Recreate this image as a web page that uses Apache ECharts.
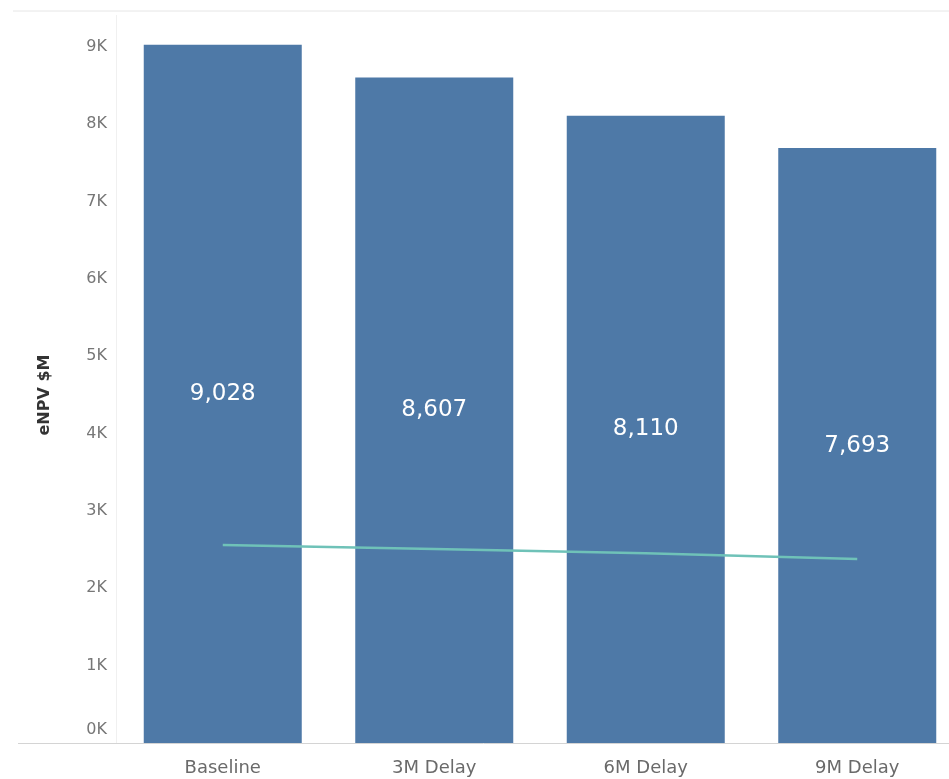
<!DOCTYPE html>
<html>
<head>
<meta charset="utf-8">
<script src="https://cdn.jsdelivr.net/npm/echarts@6/dist/echarts.min.js"></script>
<style>html,body{margin:0;padding:0;background:#fff;}#c{width:949px;height:779px;}</style>
</head>
<body>
<div id="c"></div>
<script>
const categories = ['Baseline', '3M Delay', '6M Delay', '9M Delay'];
const enpvValues = [9028, 8607, 8110, 7693];
const lineValues = [2560, 2510, 2455, 2380];
const yTicks = { min: 0, max: 9000, interval: 1000 };

const chart = echarts.init(document.getElementById('c'));
chart.setOption({
  animation: false,
  textStyle: { fontFamily: 'DejaVu Sans, sans-serif' },
  grid: { left: 117, width: 846, top: 47, bottom: 36, containLabel: false, outerBoundsMode: 'none' },
  graphic: [
    { type: 'line', shape: { x1: 13, y1: 11, x2: 949, y2: 11 }, style: { stroke: '#e6e6e6', lineWidth: 1 }, silent: true },
    { type: 'line', shape: { x1: 116.5, y1: 15, x2: 116.5, y2: 743 }, style: { stroke: '#f0f0f0', lineWidth: 1 }, silent: true },
    { type: 'line', shape: { x1: 18, y1: 743.5, x2: 949, y2: 743.5 }, style: { stroke: '#d4d4d4', lineWidth: 1 }, silent: true }
  ],
  xAxis: {
    type: 'category',
    data: categories,
    axisLine: { show: false },
    axisTick: { show: false },
    axisLabel: { color: '#6a6a6a', fontSize: 18, margin: 16 }
  },
  yAxis: {
    type: 'value',
    min: yTicks.min, max: yTicks.max, interval: yTicks.interval,
    name: 'eNPV $M',
    nameLocation: 'middle',
    nameGap: 64,
    nameTextStyle: { color: '#333', fontSize: 16, fontWeight: 'bold' },
    axisLine: { show: false },
    axisTick: { show: false },
    splitLine: { show: false },
    axisLabel: {
      color: '#777', fontSize: 16, margin: 10,
      formatter: v => v === 0 ? '{z|0K}' : (v / 1000) + 'K',
      rich: { z: { color: '#777', fontSize: 16, padding: [0, 0, 26, 0] } }
    }
  },
  series: [
    {
      type: 'bar',
      data: enpvValues,
      barWidth: 158,
      clip: false,
      itemStyle: { color: '#4e79a7' },
      label: {
        show: true, position: 'inside', color: '#fff', fontSize: 23,
        formatter: p => p.value.toLocaleString('en-US')
      }
    },
    {
      type: 'line',
      data: lineValues,
      symbol: 'none',
      z: 5,
      lineStyle: { color: '#6fc2b8', width: 2.5 }
    }
  ]
});
</script>
</body>
</html>
